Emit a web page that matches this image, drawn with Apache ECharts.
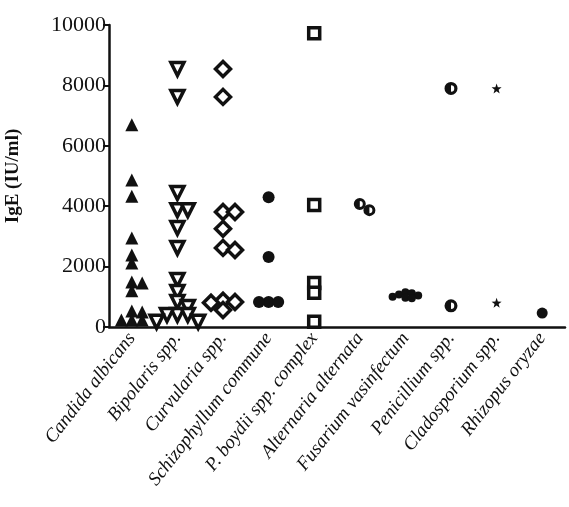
<!DOCTYPE html>
<html><head><meta charset="utf-8">
<script src="https://cdn.jsdelivr.net/npm/echarts@6/dist/echarts.min.js"></script>
<style>html,body{margin:0;padding:0;background:#fff}#c{width:569px;height:507px}</style>
</head><body><div id="c"></div>
<script>
const categories = ['Candida albicans', 'Bipolaris spp.', 'Curvularia spp.', 'Schizophyllum commune', 'P. boydii spp. complex', 'Alternaria alternata', 'Fusarium vasinfectum', 'Penicillium spp.', 'Cladosporium spp.', 'Rhizopus oryzae'];
const candida = [6700, 4870, 4330, 2950, 2380, 2120, 1490, 1460, 1200, 530, 500, 230, 230, 230];
const bipolaris = [8540, 7620, 4440, 3870, 3870, 3280, 2620, 1560, 1160, 830, 660, 400, 400, 400, 170, 170];
const curvularia = [8540, 7620, 3810, 3810, 3250, 2620, 2550, 870, 830, 800, 560];
const schizophyllum = [4300, 2320, 830, 830, 830];
const boydii = [9730, 4040, 1460, 1130, 170];
const alternaria = [4070, 3870];
const fusarium = [1150, 1120, 1080, 1040, 1000, 970, 950];
const penicillium = [7900, 700];
const cladosporium = [7900, 800];
const rhizopus = [460];
const yMin = 0, yMax = 10000, yStep = 2000;

const INK = '#111';
const halfCircle = 'path://M0,-10A10,10 0 1,1 0,10A10,10 0 1,1 0,-10ZM0,-5L0,5A5,5 0 0,0 0,-5Z';
const star = 'path://M0,-10L2.35,-3.24L9.51,-3.09L3.8,1.24L5.88,8.09L0,4L-5.88,8.09L-3.8,1.24L-9.51,-3.09L-2.35,-3.24Z';

const grid = {left: 109, right: 4, top: 25, bottom: 180, containLabel: false, outerBoundsMode: 'none'};
const plotW = 569 - grid.left - grid.right, plotH = 507 - grid.top - grid.bottom;
const pxPerCat = plotW / categories.length, pxPerVal = plotH / (yMax - yMin);

// beeswarm layout: spread overlapping points sideways
function swarm(vals, idx, size) {
  const placed = [];
  const step = size * 0.8;
  return vals.map(v => {
    const y = (v - yMin) * pxPerVal;
    let off = 0;
    for (let k = 0; k < 30; k++) {
      const cand = (k === 0) ? 0 : (k % 2 === 1 ? 1 : -1) * Math.ceil(k / 2) * step;
      const hit = placed.some(p => Math.abs(p.y - y) < size * 0.6 && Math.abs(p.x - cand) < size * 0.7);
      if (!hit) { off = cand; break; }
    }
    placed.push({x: off, y: y});
    return [idx + off / pxPerCat, v];
  });
}

const specs = [
  {vals: candida, symbol: 'triangle', size: 13, filled: true},
  {vals: bipolaris, symbol: 'triangle', size: 13, rotate: 180, filled: false},
  {vals: curvularia, symbol: 'diamond', size: 15, filled: false},
  {vals: schizophyllum, symbol: 'circle', size: 12, filled: true},
  {vals: boydii, symbol: 'rect', size: 11, filled: false},
  {vals: alternaria, symbol: halfCircle, size: 12, filled: true},
  {vals: fusarium, symbol: 'circle', size: 8, filled: true},
  {vals: penicillium, symbol: halfCircle, size: 13, filled: true},
  {vals: cladosporium, symbol: star, size: 10, filled: true},
  {vals: rhizopus, symbol: 'circle', size: 11, filled: true}
];

const series = specs.map((s, i) => ({
  type: 'scatter',
  name: categories[i],
  xAxisIndex: 1,
  yAxisIndex: 0,
  symbol: s.symbol,
  symbolSize: s.size,
  symbolRotate: s.rotate || 0,
  data: swarm(s.vals, i, s.size),
  itemStyle: s.filled ? {color: INK, opacity: 1} : {color: '#fff', borderColor: INK, borderWidth: 3.5, opacity: 1},
  emphasis: {disabled: true},
  silent: true
}));

const chart = echarts.init(document.getElementById('c'), null, {renderer: 'canvas'});
chart.setOption({
  animation: false,
  backgroundColor: '#fff',
  grid: grid,
  xAxis: [
    {
      type: 'category', data: categories, boundaryGap: true,
      axisLine: {onZero: false, lineStyle: {color: INK, width: 2.5}},
      axisTick: {alignWithLabel: true, length: 7, lineStyle: {color: INK, width: 2}},
      axisLabel: {interval: 0, rotate: 52, fontFamily: 'Liberation Serif', fontStyle: 'italic', fontSize: 19, color: INK, margin: 8},
      splitLine: {show: false}
    },
    {type: 'value', min: -0.5, max: categories.length - 0.5, show: false}
  ],
  yAxis: {
    type: 'value', min: yMin, max: yMax, interval: yStep,
    name: 'IgE (IU/ml)', nameLocation: 'middle', nameGap: 86,
    nameTextStyle: {fontFamily: 'Liberation Serif', fontWeight: 'bold', fontSize: 19, color: INK},
    axisLine: {show: true, onZero: false, lineStyle: {color: INK, width: 2.5}},
    axisTick: {show: true, length: 6, lineStyle: {color: INK, width: 2}},
    axisLabel: {fontFamily: 'Liberation Serif', fontSize: 22, color: INK, margin: 3, formatter: v => String(v)},
    splitLine: {show: false}
  },
  series: series
});
</script>
</body></html>
